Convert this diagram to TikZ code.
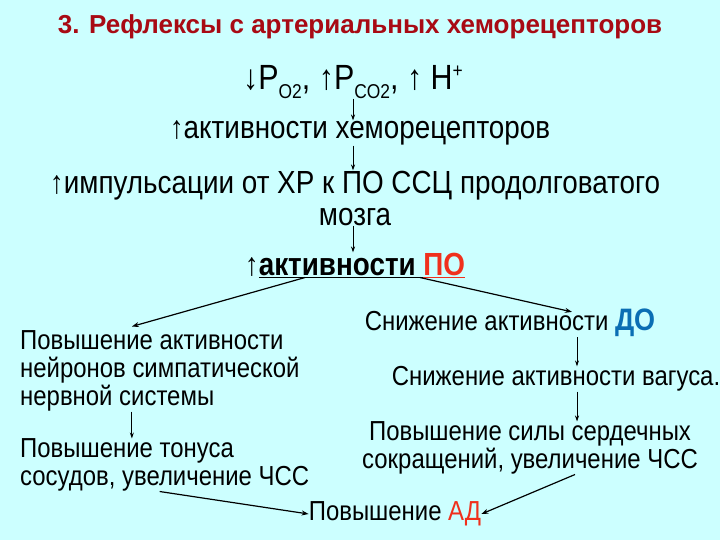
\documentclass[tikz,border=0pt]{standalone}
\usepackage{fontspec}
\setmainfont{Liberation Sans}[FakeStretch=0.87]
\newfontfamily\titlefont{Liberation Sans}
\usetikzlibrary{arrows.meta, positioning}
\definecolor{bgcyan}{HTML}{CCFFFF}
\definecolor{titlered}{HTML}{A80A14}
\definecolor{hotred}{HTML}{F0301C}
\definecolor{doblue}{HTML}{0A6EB4}
\tikzset{
    heading/.style={font=\titlefont\fontsize{26}{30}\selectfont\bfseries, text=titlered, inner sep=0pt},
    bigtext/.style={font=\fontsize{32}{32}\selectfont, inner sep=0pt, align=center},
    smalltext/.style={font=\fontsize{27.5}{28}\selectfont, inner sep=0pt, align=left},
    arrow/.style={-{Stealth[length=6pt, width=4pt]}, line width=0.8pt},
    bigarrow/.style={-{Stealth[length=7pt, width=5pt]}, line width=1.2pt}
}
\newcommand{\gsub}[1]{\raisebox{-0.45ex}{\fontsize{20}{20}\selectfont #1}}
\begin{document}
\begin{tikzpicture}[x=1pt, y=-1pt]
    \fill[bgcyan] (0,0) rectangle (720,540);
    \useasboundingbox (0,0) rectangle (720,540);
    % Nodes
    \node (title) [heading] at (360,27) {3. Рефлексы с артериальных хеморецепторов};
    \node (gas) [bigtext, font=\fontsize{35}{35}\selectfont] at (353,82) {↓P\gsub{O2}, ↑P\gsub{CO2}, ↑ H\raisebox{0.7ex}{\fontsize{20}{20}\selectfont +}};
    \node (act) [bigtext] at (360,133) {↑активности хеморецепторов};
    \node (imp) [bigtext] at (355,198) {↑импульсации от ХР к ПО ССЦ продолговатого\\мозга};
    \node (po) [bigtext] at (355,265) {↑\textbf{\underline{активности }\textcolor{hotred}{\underline{ПО}}}};
    \node (symp) [smalltext, anchor=west] at (20,371) {Повышение активности\\нейронов симпатической\\нервной системы};
    \node (tonus) [smalltext, anchor=west] at (20,465) {Повышение тонуса\\сосудов, увеличение ЧСС};
    \node (dekr) [smalltext] at (510,323) {Снижение активности {\fontsize{31}{31}\selectfont\bfseries\textcolor{doblue}{ДО}}};
    \node (vag) [smalltext] at (556,379) {Снижение активности вагуса.};
    \node (sila) [smalltext, align=center] at (530,448) {Повышение силы сердечных\\сокращений, увеличение ЧСС};
    \node (ad) [smalltext] at (395,514) {Повышение \textcolor{hotred}{АД}};
    % Arrows
    \draw [arrow] (gas.south) -- (gas.south |- act.north);
    \draw [arrow] (act.south -| gas.south) -- (gas.south |- imp.north);
    \draw [arrow] (imp.south -| gas.south) -- (gas.south |- po.north);
    \draw [bigarrow] ([xshift=-50pt]po.south) -- ([xshift=-28pt, yshift=4pt]symp.north);
    \draw [bigarrow] ([xshift=65pt]po.south) -- ([xshift=62pt, yshift=-3pt]dekr.north);
    \draw [arrow] ([xshift=67pt]dekr.south) -- ([xshift=67pt]dekr.south |- vag.north);
    \draw [arrow] ([xshift=67pt]dekr.south |- vag.south) -- ([xshift=67pt]dekr.south |- sila.north);
    \draw [arrow] ([xshift=-28pt]symp.south) -- ([xshift=-28pt]symp.south |- tonus.north);
    \draw [bigarrow] ([xshift=-5pt]tonus.south) -- (ad.west);
    \draw [bigarrow] ([xshift=45pt]sila.south) -- (ad.east);
\end{tikzpicture}
\end{document}
